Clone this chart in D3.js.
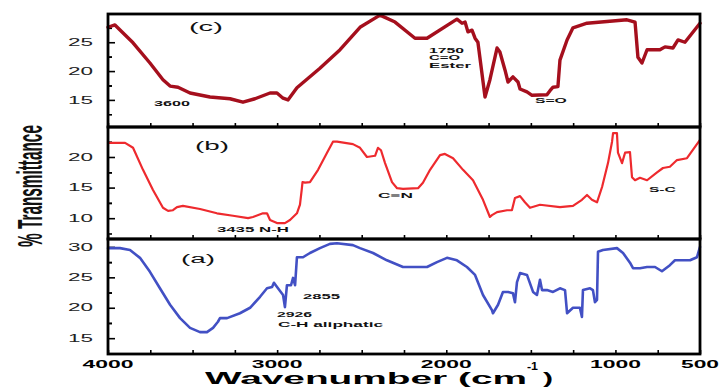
<!DOCTYPE html>
<html>
<head>
<meta charset="utf-8">
<script src="https://cdn.jsdelivr.net/npm/d3@7"></script>
<style>
  body { margin: 0; background: #fff; }
  text { font-family: "Liberation Sans", Arial, sans-serif; }
</style>
</head>
<body>
<svg></svg>
<script>
// spectra (wavenumber cm-1 / % transmittance)
var waveC = [4000,3959,3852,3752,3675,3633,3586,3515,3397,3279,3202,3131,3042,3001,2965,2936,2883,2747,2628,2510,2392,2303,2185,2114,1937,1907,1889,1872,1848,1830,1813,1771,1742,1700,1683,1653,1635,1606,1576,1564,1523,1493,1405,1387,1369,1340,1328,1286,1251,1168,932,884,867,843,813,737,707,660,630,589,500];
var transC = [27.6,28.0,24.9,21.4,18.5,17.4,17.2,16.2,15.5,15.2,14.6,15.2,16.2,16.2,15.3,15.0,17.1,20.5,23.7,27.6,29.7,28.5,25.7,25.7,29.0,28.3,28.5,26.8,27.1,25.7,25.0,15.5,18.5,24.0,23.3,20.2,18.1,19.0,18.1,16.9,16.4,15.8,15.9,16.6,17.2,17.3,21.9,25.4,27.5,28.3,28.9,28.5,22.4,21.4,23.7,23.7,24.2,24.0,25.4,25.0,28.3];

var waveB = [4000,3899,3852,3793,3734,3675,3645,3616,3592,3557,3456,3356,3261,3172,3143,3084,3060,3042,3001,2954,2924,2883,2865,2855,2850,2835,2806,2758,2705,2670,2646,2552,2510,2469,2421,2404,2386,2362,2321,2291,2256,2167,2138,2096,2037,2008,1960,1901,1842,1783,1742,1730,1700,1641,1612,1594,1564,1535,1505,1446,1328,1251,1198,1168,1139,1109,1079,1044,1020,1014,991,985,961,943,914,902,884,855,813,754,719,678,636,577,500];
var transB = [22.3,22.3,21.5,17.9,14.6,11.7,11.2,11.3,11.8,12.0,11.5,10.8,10.4,10.0,10.2,10.8,10.8,9.7,9.2,9.2,9.7,10.8,12.2,14.6,15.9,15.8,15.9,17.9,20.7,22.5,22.5,22.1,21.5,20.0,20.2,21.5,21.1,19.0,15.9,14.9,14.8,14.9,15.8,17.9,20.3,20.5,19.8,17.9,16.2,13.0,10.2,10.5,11.0,11.3,11.3,13.3,13.6,12.6,11.7,12.2,11.8,12.0,13.0,13.8,13.0,12.6,15.1,19.0,22.5,23.9,23.9,20.7,19.0,20.7,20.8,16.7,16.2,16.6,16.2,17.5,18.2,18.4,19.5,19.8,22.8];

var waveA = [4000,3929,3870,3811,3752,3693,3633,3574,3515,3456,3415,3379,3350,3338,3296,3220,3160,3101,3060,3030,3019,2995,2965,2954,2942,2918,2906,2894,2883,2847,2806,2747,2688,2646,2552,2510,2433,2351,2256,2114,2055,1996,1937,1878,1830,1783,1730,1724,1694,1665,1635,1606,1594,1582,1564,1523,1487,1464,1446,1434,1405,1369,1328,1298,1286,1251,1210,1198,1192,1150,1133,1121,1109,1103,1074,991,955,914,896,855,813,766,725,678,648,559,518,500];
var transA = [29.8,29.8,29.5,28.2,25.9,23.2,20.5,18.3,16.7,16.0,16.0,16.7,17.7,18.3,18.3,19.1,20.0,21.8,23.2,23.4,24.1,23.2,22.1,20.1,23.7,23.7,24.9,23.7,28.3,28.3,29.0,29.8,30.5,30.6,30.3,29.8,29.0,27.8,26.7,26.7,27.5,28.2,27.8,26.7,25.4,22.1,19.6,19.1,20.5,22.6,22.6,22.4,20.9,24.2,25.7,25.4,22.6,22.1,24.6,22.9,22.9,22.6,23.2,22.9,19.1,20.0,20.0,18.5,22.9,23.2,22.9,20.9,21.3,29.2,29.5,29.8,29.0,27.4,26.5,26.5,26.7,26.7,26.0,27.0,27.8,27.8,28.3,30.0];

var xTickLabels = [4000, 3000, 2000, 1000, 500];
var yTicksC = [15, 20, 25];
var yTicksB = [10, 15, 20];
var yTicksA = [15, 20, 25, 30];

// annotations: text, wavenumber, transmittance (baseline), width
var notesC = [["3600", 3728, 13.9, 36], ["1750", 2102, 23.2, 35], ["C=O", 2102, 21.85, 31], ["Ester", 2102, 20.5, 42], ["S=O", 1476, 14.5, 32]];
var notesB = [["3435  N-H", 3356, 7.7, 72], ["C\u2261N", 2404, 13.3, 35], ["S-C", 802, 14.3, 27]];
var notesA = [["2855", 2847, 21.4, 37], ["2926", 3001, 18.5, 35], ["C-H aliphatic", 2995, 16.8, 105]];

var svgWidth = 720, svgHeight = 387;
var svg = d3.select("svg").attr("width", svgWidth).attr("height", svgHeight);

var left = 108, right = 700;
var xScale = d3.scaleLinear().domain([4000, 500]).range([left, right]);

var panels = [
  {name: "(c)", nameAt: [3421, 26.95], top: 14, bottom: 127, dom: [10.3, 29.9], ticks: yTicksC, wave: waveC, trans: transC, color: "#a50f1d", lw: 3.4, notes: notesC},
  {name: "(b)", nameAt: [3385, 21.1], top: 127, bottom: 239, dom: [6.6, 24.9], ticks: yTicksB, wave: waveB, trans: transB, color: "#ee2a2e", lw: 2.2, notes: notesB},
  {name: "(a)", nameAt: [3468, 27.4], top: 239, bottom: 354, dom: [12.4, 31.3], ticks: yTicksA, wave: waveA, trans: transA, color: "#4250c4", lw: 2.6, notes: notesA}
];

// stretched text helper (the original picture is widened horizontally)
function wideText(g, str, x, y, len, size, weight) {
  return g.append("text")
    .attr("x", x).attr("y", y)
    .attr("textLength", len).attr("lengthAdjust", "spacingAndGlyphs")
    .style("font-size", size + "px").style("font-weight", weight)
    .attr("fill", "#111")
    .text(str);
}

var xTicks = d3.range(4000, 499, -250);

panels.forEach(function(p) {
  var yScale = d3.scaleLinear().domain(p.dom).range([p.bottom, p.top]);
  var g = svg.append("g");

  // x ticks (inside, on the bottom of every panel)
  g.append("g")
    .attr("transform", "translate(0," + p.bottom + ")")
    .call(d3.axisBottom(xScale).tickValues(xTicks).tickSize(-4).tickSizeOuter(0).tickFormat(""))
    .call(function(a) { a.select(".domain").remove(); a.selectAll("line").attr("stroke-width", 1.6); });

  // y ticks, major and minor
  var minor = [];
  p.ticks.forEach(function(t) { minor.push(t - 2.5); minor.push(t + 2.5); });
  minor = minor.filter(function(t) { return t > p.dom[0] && t < p.dom[1] && p.ticks.indexOf(t) < 0; });
  g.append("g")
    .attr("transform", "translate(" + left + ",0)")
    .call(d3.axisLeft(yScale).tickValues(p.ticks).tickSize(-7).tickSizeOuter(0).tickFormat(""))
    .call(function(a) { a.select(".domain").remove(); a.selectAll("line").attr("stroke-width", 1.6); });
  g.append("g")
    .attr("transform", "translate(" + left + ",0)")
    .call(d3.axisLeft(yScale).tickValues(minor).tickSize(-4).tickSizeOuter(0).tickFormat(""))
    .call(function(a) { a.select(".domain").remove(); a.selectAll("line").attr("stroke-width", 1.6); });

  // y tick labels
  p.ticks.forEach(function(t) {
    wideText(g, String(t), 68, yScale(t) + 3.6, 25, 10, "normal").attr("fill", "#222");
  });

  // spectrum
  var pts = p.wave.map(function(w, i) { return [w, p.trans[i]]; });
  g.append("path")
    .datum(pts)
    .attr("fill", "none")
    .attr("stroke", p.color)
    .attr("stroke-width", p.lw)
    .attr("stroke-linejoin", "round")
    .attr("stroke-linecap", "round")
    .attr("d", d3.line().x(function(d) { return xScale(d[0]); }).y(function(d) { return yScale(d[1]); }));

  // frame
  g.append("rect")
    .attr("x", left).attr("y", p.top)
    .attr("width", right - left).attr("height", p.bottom - p.top)
    .attr("fill", "none").attr("stroke", "#000").attr("stroke-width", 2.8);

  // panel name
  wideText(g, p.name, xScale(p.nameAt[0]) - 17, yScale(p.nameAt[1]), 34, 12, "normal");

  // band annotations
  p.notes.forEach(function(n) {
    wideText(g, n[0], xScale(n[1]), yScale(n[2]), n[3], 7.5, "bold");
  });
});

// x tick labels
xTickLabels.forEach(function(t) {
  var w = String(t).length == 4 ? 51 : 38;
  wideText(svg, String(t), xScale(t) - w / 2, 368, w, 11, "bold").attr("fill", "#000");
});

// axis titles
wideText(svg, "Wavenumber (cm", 205, 384, 322, 16, "bold").attr("fill", "#000");
wideText(svg, "-1", 527, 370, 11, 10, "bold").attr("fill", "#000");
wideText(svg, ")", 543, 384, 10, 16, "bold").attr("fill", "#000");

// y title: squeezed along its length with a scale transform
var yTitle = svg.append("text")
  .style("font-size", "36px").style("font-weight", "bold")
  .attr("fill", "#111")
  .text("% Transmittance");
var natural = yTitle.node().getComputedTextLength();
yTitle.attr("transform", "translate(42,247) rotate(-90) scale(" + (122 / natural) + ",1)");
</script>
</body>
</html>
